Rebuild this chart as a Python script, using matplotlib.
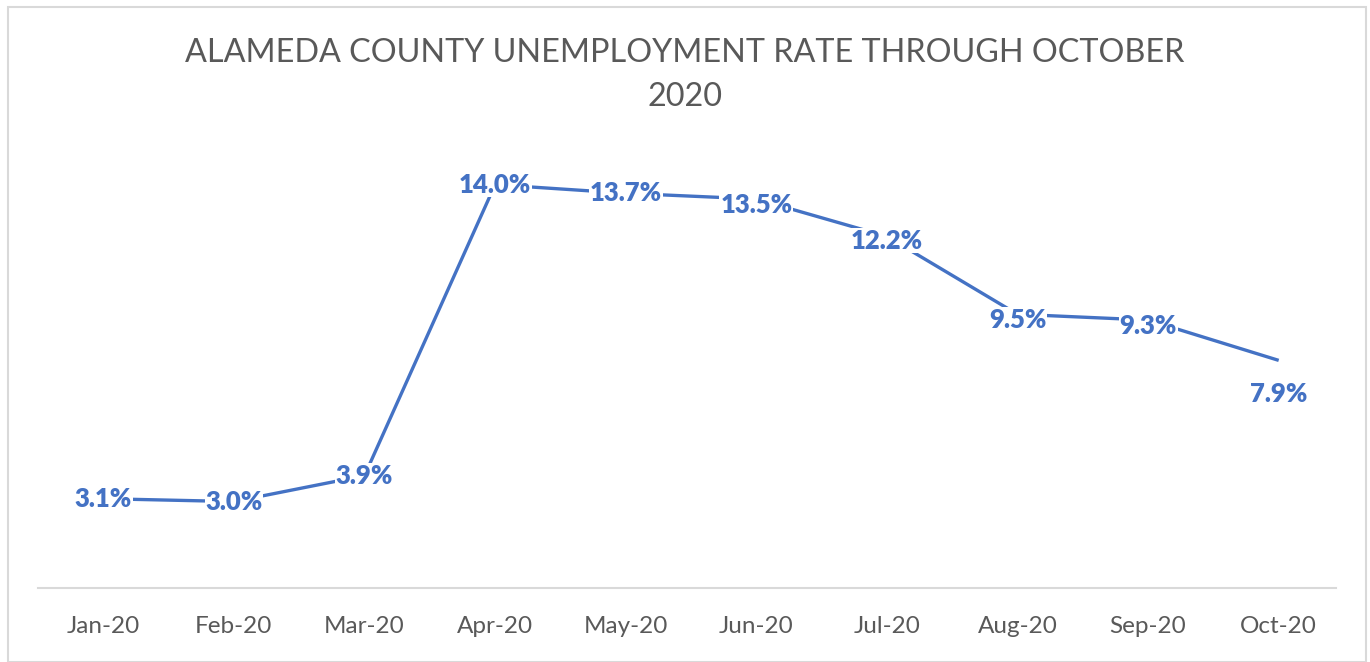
import matplotlib
matplotlib.use("Agg")
import matplotlib.pyplot as plt
from matplotlib.patches import Rectangle

# Data
months = ["Jan-20", "Feb-20", "Mar-20", "Apr-20", "May-20",
          "Jun-20", "Jul-20", "Aug-20", "Sep-20", "Oct-20"]
rates = [3.1, 3.0, 3.9, 14.0, 13.7, 13.5, 12.2, 9.5, 9.3, 7.9]

title = "ALAMEDA COUNTY UNEMPLOYMENT RATE THROUGH OCTOBER\n2020"

blue = "#4472C4"
grey = "#595959"
plt.rcParams["font.family"] = ["Lato", "DejaVu Sans"]

fig = plt.figure(figsize=(13.7, 6.62), dpi=100)
ax = fig.add_axes([38 / 1370, 1 - 588 / 662, 1306 / 1370, 461 / 662])

x = list(range(len(months)))
ax.plot(x, rates, color=blue, linewidth=2.4, zorder=2, solid_capstyle="butt")

# the last label sits below its point in the original
label_dy = [0, 0, 0, 0, 0, -4, -3, -4, -4, -24]
for xi, r, dy in zip(x, rates, label_dy):
    ax.annotate(f"{r:.1f}%", (xi, r), xytext=(0, dy), textcoords="offset points",
                ha="center", va="center", fontsize=18.5, fontweight="heavy",
                color=blue, zorder=3,
                bbox=dict(facecolor="white", edgecolor="none", pad=0.5))

ax.set_xlim(-0.5, len(months) - 0.5)
ax.set_ylim(0, 16)
ax.set_xticks(x)
ax.set_xticklabels(months, fontsize=17.5, color=grey)
ax.tick_params(axis="x", length=0, pad=20)
ax.set_yticks([])
for side in ["top", "right", "left"]:
    ax.spines[side].set_visible(False)
ax.spines["bottom"].set_color("#D9D9D9")
ax.spines["bottom"].set_linewidth(1.5)
ax.spines["bottom"].set_bounds(-0.5, len(months) - 0.56)

fig.text(0.5, 1 - 75 / 662, title, ha="center", va="center", fontsize=23.3,
         color=grey, linespacing=1.6)

# chart frame
fig.patches.append(Rectangle((8 / 1370, 0), 1358 / 1370, 1 - 7 / 662,
                             transform=fig.transFigure, fill=False,
                             edgecolor="#D9D9D9", linewidth=1.5))

fig.savefig("out.png", dpi=100)
